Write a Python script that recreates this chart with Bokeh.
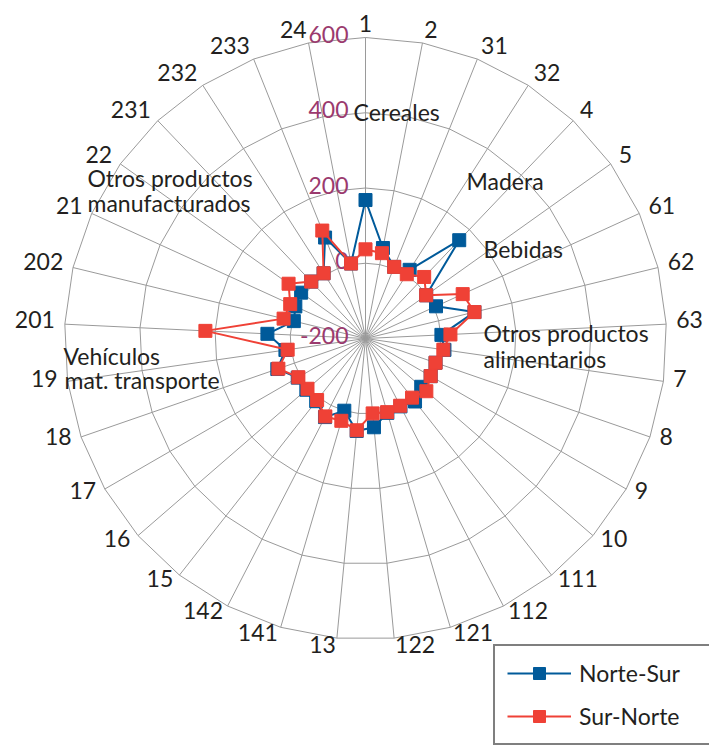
import math
from bokeh.plotting import figure
from bokeh.models import Legend, LegendItem
from bokeh.core.properties import value
from bokeh.embed import file_html
from bokeh.resources import INLINE

# ---------------- data ----------------
categories = ["1", "2", "31", "32", "4", "5", "61", "62", "63", "7", "8", "9", "10",
              "111", "112", "121", "122", "13", "141", "142", "15", "16", "17", "18",
              "19", "201", "202", "21", "22", "231", "232", "233", "24"]
norte_sur = [168, 45, 5, 17, 161, -2, 6, 98, 2, 12, -3, 0, -4, 13, 3, 6, 37, 47, 0, 35,
             12, 8, 8, 48, 15, 61, -4, 5, 10, 9, 6, 89, 3]
sur_norte = [37, 31, 5, 3, 26, -2, 84, 98, 26, 9, -3, 0, 14, 0, 1, 4, 0, 45, 28, 33,
             8, 4, 6, 45, 9, 226, 24, 20, 51, 9, 6, 109, 3]
tick_values = [-200, 0, 200, 400, 600]
series_names = ["Norte-Sur", "Sur-Norte"]
annotation_lines = ["Cereales", "Madera", "Bebidas",
                    "Otros productos", "alimentarios",
                    "Otros productos", "manufacturados",
                    "Vehículos", "mat. transporte"]

# ---------------- layout / style ----------------
W, H = 709, 746
CX, CY = 365, 338          # centre of radar inside the frame (pixels from top-left)
R = 301.0                  # outer radius in pixels
VMIN, VMAX = tick_values[0], tick_values[-1]
FONT = "Lato"
FS = "23px"
BLUE = "#005a9a"
RED = "#ef4136"
GRID = "#9a9a9a"
TICK_COLOR = "#9b3a6e"
TEXT = "#231f20"

n = len(categories)
angles = [2 * math.pi * k / n for k in range(n)]   # clockwise from top


def rad(v):
    return (v - VMIN) / (VMAX - VMIN) * R


def to_xy(vals):
    xs = [rad(v) * math.sin(a) for v, a in zip(vals, angles)]
    ys = [rad(v) * math.cos(a) for v, a in zip(vals, angles)]
    return xs, ys


p = figure(width=W, height=H, x_range=(-CX, W - CX), y_range=(CY - H, CY),
           output_backend="svg", toolbar_location=None, min_border=0)
p.min_border_left = p.min_border_right = p.min_border_top = p.min_border_bottom = 0
p.axis.visible = False
p.grid.visible = False
p.outline_line_color = None
p.background_fill_color = "white"

# rings
ring_xs, ring_ys = [], []
for t in tick_values[1:]:
    xs, ys = to_xy([t] * n)
    ring_xs.append(xs + [xs[0]])
    ring_ys.append(ys + [ys[0]])
p.multi_line(ring_xs, ring_ys, line_color=GRID, line_width=1)

# spokes
ex, ey = to_xy([VMAX] * n)
p.segment(x0=[0] * n, y0=[0] * n, x1=ex, y1=ey, line_color=GRID, line_width=1)

# tick labels
p.text(x=[-17] * len(tick_values), y=[rad(t) + 3 for t in tick_values],
       text=[str(t) for t in tick_values], text_align="right", text_baseline="middle",
       text_font=value(FONT), text_font_size=FS, text_color=TICK_COLOR)

# category labels
lx, ly, la = [], [], []
for k, a in enumerate(angles):
    s, c = math.sin(a), math.cos(a)
    lx.append((R + 10) * s)
    ly.append((R + 10) * c + 4)
    la.append("left" if s > 0.05 else ("right" if s < -0.05 else "center"))
p.text(x=lx, y=ly, text=categories, text_align=la, text_baseline="middle",
       text_font=value(FONT), text_font_size=FS, text_color=TEXT)

# annotations (category-group names)
ann_x = [-12, 101, 118, 118, 118, -278, -278, -302, -301]
ann_y = [227, 158, 90, 6, -20, 161, 136, -17, -41]
p.text(x=ann_x, y=ann_y, text=annotation_lines, text_align="left", text_baseline="middle",
       text_font=value(FONT), text_font_size=FS, text_color=TEXT)

# series
items = []
for name, vals, col in [(series_names[0], norte_sur, BLUE), (series_names[1], sur_norte, RED)]:
    xs, ys = to_xy(vals)
    ln = p.line(xs + [xs[0]], ys + [ys[0]], line_color=col, line_width=2)
    sc = p.scatter(xs, ys, marker="square", size=13, fill_color=col, line_color=col)
    items.append(LegendItem(label=name, renderers=[ln, sc]))

legend = Legend(items=items, location=(493, 1), border_line_color="black",
                border_line_width=2, background_fill_color="white", background_fill_alpha=1,
                padding=12, spacing=13, margin=0, glyph_width=64, glyph_height=30,
                label_height=30, label_width=118, label_standoff=8, label_text_font=FONT,
                label_text_font_size=FS, label_text_color=TEXT)
p.add_layout(legend)

open("out.html", "w").write(file_html(p, INLINE))
